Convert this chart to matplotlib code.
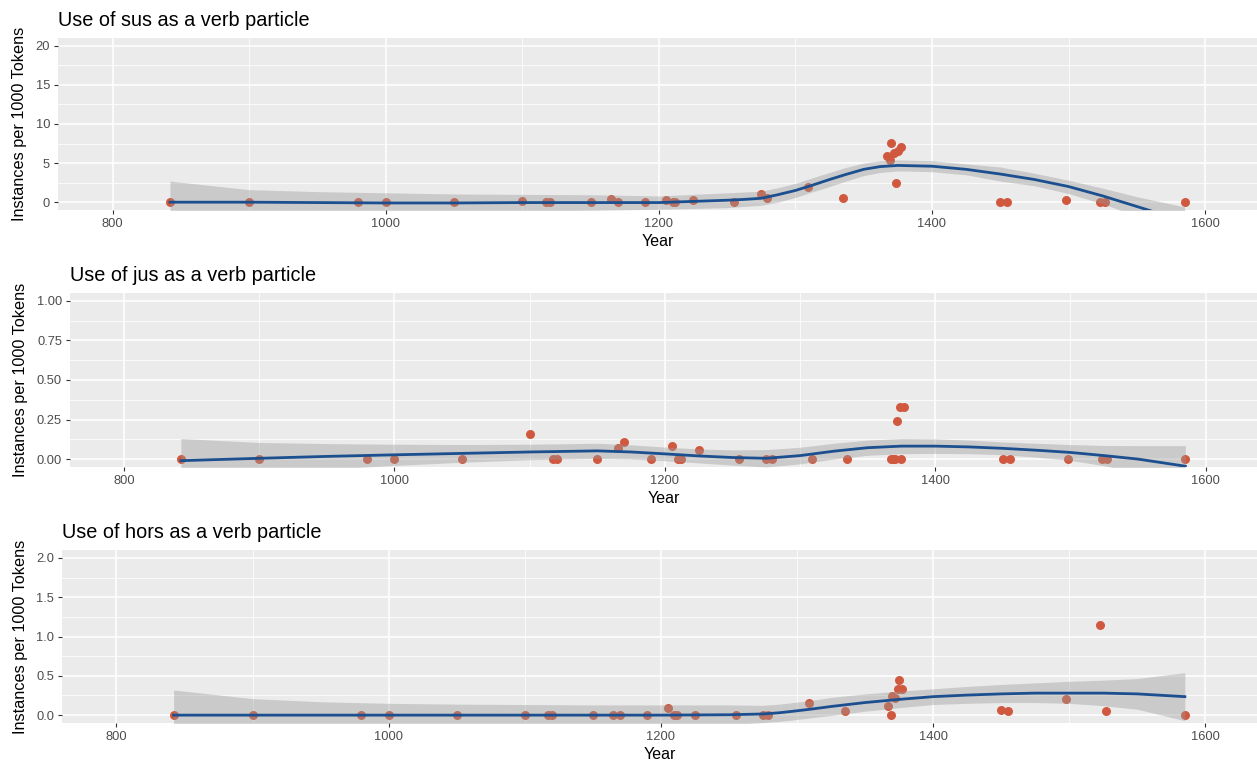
import matplotlib.pyplot as plt
from matplotlib.ticker import MultipleLocator, FormatStrFormatter

plt.rcParams['font.family'] = ['Liberation Sans', 'DejaVu Sans']

# dates of the texts (same corpus for all three particles)
years = [842, 900, 980, 1000, 1050, 1100, 1117, 1120, 1150, 1165, 1170, 1190,
         1205, 1210, 1212, 1225, 1255, 1275, 1279, 1309, 1335,
         1367, 1369, 1370, 1372, 1374, 1375, 1377,
         1450, 1455, 1498, 1523, 1527, 1585]

sus = [0, 0, 0, 0, 0, 0.1, 0, 0, 0, 0.35, 0, 0,
       0.3, 0, 0, 0.3, 0, 1.0, 0.5, 1.95, 0.55,
       5.9, 5.4, 7.6, 6.3, 2.4, 6.6, 7.0,
       0, 0, 0.3, 0.05, 0, 0]
jus = [0, 0, 0, 0, 0, 0.16, 0, 0, 0, 0.07, 0.11, 0,
       0.08, 0, 0, 0.06, 0, 0, 0, 0, 0,
       0, 0, 0, 0.24, 0.33, 0, 0.33,
       0, 0, 0, 0, 0, 0]
hors = [0, 0, 0, 0, 0, 0, 0, 0, 0, 0, 0, 0,
        0.09, 0, 0, 0, 0, 0, 0, 0.15, 0.05,
        0.11, 0, 0.24, 0.22, 0.33, 0.45, 0.33,
        0.07, 0.05, 0.2, 1.14, 0.05, 0]

# smoothed trend + confidence band
susFitX = [842, 900, 950, 1000, 1050, 1100, 1150, 1200, 1225, 1250, 1262, 1275, 1287, 1300,
           1312, 1325, 1337, 1350, 1362, 1375, 1400, 1425, 1450, 1475, 1500, 1525, 1550, 1585]
susFit = [0, 0, -0.05, -0.1, -0.1, -0.05, -0.05, -0.05, 0.1, 0.25, 0.35, 0.5, 0.95, 1.5,
          2.15, 2.9, 3.55, 4.2, 4.55, 4.7, 4.6, 4.2, 3.6, 2.9, 2.0, 0.8, -0.55, -2.45]
susHigh = [2.7, 1.6, 1.35, 1.2, 1.05, 1.0, 0.95, 0.8, 1.0, 1.2, 1.3, 1.4, 1.85, 2.4,
           3.1, 3.8, 4.45, 5.0, 5.3, 5.4, 5.3, 4.9, 4.5, 3.7, 2.8, 1.8, 0.7, -0.6]
susLow = [-2.7, -1.6, -1.45, -1.4, -1.25, -1.1, -1.05, -0.9, -0.8, -0.7, -0.55, -0.4, 0.0, 0.6,
          1.3, 2.0, 2.7, 3.4, 3.8, 4.0, 3.9, 3.5, 2.7, 2.1, 1.1, -0.2, -1.8, -4.3]

jusFitX = [842, 900, 950, 1000, 1050, 1100, 1150, 1175, 1200, 1225, 1250, 1275,
           1300, 1325, 1350, 1375, 1400, 1425, 1450, 1475, 1500, 1525, 1550, 1585]
jusFit = [-0.01, 0.005, 0.017, 0.027, 0.036, 0.045, 0.052, 0.045, 0.033, 0.02, 0.01, 0.005,
          0.022, 0.05, 0.072, 0.082, 0.082, 0.077, 0.068, 0.056, 0.042, 0.022, 0.0, -0.045]
jusHigh = [0.13, 0.105, 0.098, 0.094, 0.092, 0.094, 0.1, 0.09, 0.076, 0.064, 0.058, 0.06,
           0.075, 0.1, 0.12, 0.13, 0.128, 0.12, 0.108, 0.1, 0.092, 0.086, 0.085, 0.085]
jusLow = [-0.15, -0.095, -0.064, -0.04, -0.02, -0.004, 0.004, 0.0, -0.01, -0.024, -0.038, -0.05,
          -0.03, 0.0, 0.024, 0.034, 0.036, 0.034, 0.028, 0.012, -0.008, -0.042, -0.085, -0.175]

horsFitX = [842, 900, 950, 1000, 1050, 1100, 1150, 1200, 1250, 1275, 1287, 1300, 1312,
            1325, 1350, 1375, 1400, 1425, 1450, 1475, 1500, 1525, 1550, 1585]
horsFit = [0, 0, 0, 0, 0, 0, 0, 0, 0.005, 0.015, 0.03, 0.055, 0.08,
           0.11, 0.16, 0.2, 0.235, 0.255, 0.27, 0.28, 0.28, 0.28, 0.27, 0.235]
horsHigh = [0.32, 0.21, 0.17, 0.15, 0.14, 0.135, 0.13, 0.13, 0.13, 0.125, 0.14, 0.165, 0.19,
            0.225, 0.27, 0.305, 0.335, 0.365, 0.39, 0.41, 0.43, 0.445, 0.465, 0.54]
horsLow = [-0.32, -0.21, -0.17, -0.15, -0.14, -0.135, -0.13, -0.13, -0.12, -0.095, -0.08, -0.055, -0.03,
           -0.005, 0.05, 0.095, 0.135, 0.15, 0.16, 0.16, 0.15, 0.12, 0.075, -0.07]

W, H = 1257, 765
panels = [
    dict(title='Use of sus as a verb particle', y=sus, fx=susFitX, fit=susFit,
         lo=susLow, hi=susHigh, ylim=(-1, 21), major=5, fmt='%d', box=(58, 38, 210)),
    dict(title='Use of jus as a verb particle', y=jus, fx=jusFitX, fit=jusFit,
         lo=jusLow, hi=jusHigh, ylim=(-0.05, 1.05), major=0.25, fmt='%.2f', box=(70, 293, 467)),
    dict(title='Use of hors as a verb particle', y=hors, fx=horsFitX, fit=horsFit,
         lo=horsLow, hi=horsHigh, ylim=(-0.1, 2.1), major=0.5, fmt='%.1f', box=(62, 550, 723)),
]

fig = plt.figure(figsize=(W / 100, H / 100), dpi=100)

for p in panels:
    left, top, bottom = p['box']
    ax = fig.add_axes([left / W, 1 - bottom / H, (W - left) / W, (bottom - top) / H])
    ax.set_facecolor('#EBEBEB')
    for s in ax.spines.values():
        s.set_visible(False)
    ax.set_axisbelow(True)

    ax.set_xlim(760, 1638)
    ax.set_ylim(*p['ylim'])
    ax.xaxis.set_major_locator(MultipleLocator(200))
    ax.xaxis.set_minor_locator(MultipleLocator(100))
    ax.yaxis.set_major_locator(MultipleLocator(p['major']))
    ax.yaxis.set_minor_locator(MultipleLocator(p['major'] / 2))
    ax.yaxis.set_major_formatter(FormatStrFormatter(p['fmt']))
    ax.grid(which='major', color='white', linewidth=1.1)
    ax.grid(which='minor', color='white', linewidth=0.55)
    ax.tick_params(which='major', length=2.75, width=0.8, color='#333333',
                   labelcolor='#4D4D4D', labelsize=9.3, pad=3)
    ax.tick_params(which='minor', length=0)

    ax.scatter(years, p['y'], s=42, color='#D0583E', linewidths=0, zorder=2)
    ax.fill_between(p['fx'], p['lo'], p['hi'], color='#999999', alpha=0.4,
                    linewidth=0, zorder=3)
    ax.plot(p['fx'], p['fit'], color='#1B4F8F', linewidth=2.0, zorder=4)

    ax.set_title(p['title'], loc='left', pad=9, fontsize=14.3)
    ax.set_xlabel('Year', fontsize=11.5, labelpad=3)
    ax.set_ylabel('Instances per 1000 Tokens', fontsize=11.7, labelpad=6)

fig.savefig('out.png', dpi=100)
